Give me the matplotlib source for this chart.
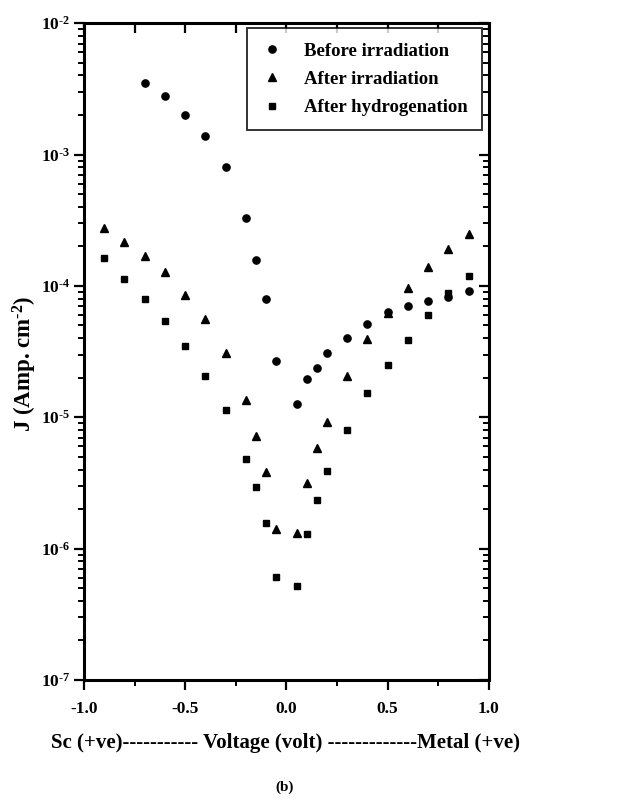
import numpy as np
import matplotlib
matplotlib.use("Agg")
import matplotlib.pyplot as plt
from matplotlib.ticker import LogLocator, NullFormatter, MultipleLocator

plt.rcParams['font.family'] = 'Liberation Serif'
plt.rcParams['font.weight'] = 'bold'
plt.rcParams['mathtext.fontset'] = 'custom'
plt.rcParams['mathtext.rm'] = 'Liberation Serif:bold'
plt.rcParams['mathtext.bf'] = 'Liberation Serif:bold'
plt.rcParams['mathtext.default'] = 'bf'

# Before irradiation
v_before = [-0.7, -0.6, -0.5, -0.4, -0.3, -0.2, -0.15, -0.1, -0.05,
            0.05, 0.1, 0.15, 0.2, 0.3, 0.4, 0.5, 0.6, 0.7, 0.8, 0.9]
j_before = [3.5e-3, 2.8e-3, 2.0e-3, 1.38e-3, 8.0e-4, 3.3e-4, 1.57e-4, 7.9e-5, 2.7e-5,
            1.26e-5, 1.95e-5, 2.37e-5, 3.1e-5, 4.0e-5, 5.1e-5, 6.3e-5, 7.0e-5, 7.7e-5, 8.3e-5, 9.1e-5]

# After irradiation
v_irr = [-0.9, -0.8, -0.7, -0.6, -0.5, -0.4, -0.3, -0.2, -0.15, -0.1, -0.05,
         0.05, 0.1, 0.15, 0.2, 0.3, 0.4, 0.5, 0.6, 0.7, 0.8, 0.9]
j_irr = [2.75e-4, 2.15e-4, 1.69e-4, 1.27e-4, 8.5e-5, 5.6e-5, 3.1e-5, 1.35e-5, 7.2e-6, 3.8e-6, 1.41e-6,
         1.32e-6, 3.16e-6, 5.8e-6, 9.2e-6, 2.06e-5, 3.94e-5, 6.2e-5, 9.6e-5, 1.39e-4, 1.9e-4, 2.48e-4]

# After hydrogenation
v_hyd = [-0.9, -0.8, -0.7, -0.6, -0.5, -0.4, -0.3, -0.2, -0.15, -0.1, -0.05,
         0.05, 0.1, 0.15, 0.2, 0.3, 0.4, 0.5, 0.6, 0.7, 0.8, 0.9]
j_hyd = [1.63e-4, 1.13e-4, 7.9e-5, 5.4e-5, 3.48e-5, 2.06e-5, 1.13e-5, 4.8e-6, 2.94e-6, 1.57e-6, 6.1e-7,
         5.2e-7, 1.29e-6, 2.34e-6, 3.9e-6, 8.0e-6, 1.53e-5, 2.5e-5, 3.9e-5, 6.0e-5, 8.9e-5, 1.19e-4]

xt = [-1.0, -0.5, 0.0, 0.5, 1.0]
yt = [1e-7, 1e-6, 1e-5, 1e-4, 1e-3, 1e-2]

fig = plt.figure(figsize=(6.19, 7.99), dpi=100)
ax = fig.add_axes([0.1357, 0.149, 0.654, 0.822])

h1, = ax.plot(v_before, j_before, 'o', color='black', markersize=5.2, label='Before irradiation')
h2, = ax.plot(v_irr, j_irr, '^', color='black', markersize=5.5, label='After irradiation')
h3, = ax.plot(v_hyd, j_hyd, 's', color='black', markersize=4.6, label='After hydrogenation')

ax.set_yscale('log')
ax.set_xlim(-1.0, 1.0)
ax.set_ylim(1e-7, 1e-2)
ax.xaxis.set_minor_locator(MultipleLocator(0.25))
ax.set_xticks(xt)
ax.set_xticklabels(['%.1f' % v for v in xt], fontsize=12.5, fontweight='bold')
ax.yaxis.set_minor_locator(LogLocator(base=10, subs=np.arange(2, 10), numticks=20))
ax.yaxis.set_minor_formatter(NullFormatter())
ax.set_yticks(yt)
ax.set_yticklabels([r'$10^{\text{-}%d}$' % -int(round(np.log10(v))) for v in yt], fontsize=12.5)
ax.tick_params(which='major', direction='out', length=7, width=1.6, pad=3)
ax.tick_params(which='minor', direction='out', length=4, width=1.4)
ax.tick_params(axis='x', pad=8)
for s in ax.spines.values():
    s.set_linewidth(2.2)

# inward ticks on right and top
axr = ax.twinx()
axr.set_yscale('log')
axr.set_ylim(1e-7, 1e-2)
axr.set_yticks(yt)
axr.yaxis.set_minor_locator(LogLocator(base=10, subs=np.arange(2, 10), numticks=20))
axr.tick_params(which='major', direction='in', length=7, width=1.6, labelright=False)
axr.tick_params(which='minor', direction='in', length=4, width=1.4, labelright=False)
axt = ax.twiny()
axt.set_xlim(-1.0, 1.0)
axt.xaxis.set_major_locator(MultipleLocator(0.5))
axt.xaxis.set_minor_locator(MultipleLocator(0.25))
axt.tick_params(which='major', direction='in', length=7, width=1.6, labeltop=False)
axt.tick_params(which='minor', direction='in', length=7, width=1.6, labeltop=False)

leg = axt.legend(handles=[h1, h2, h3], loc='upper right', bbox_to_anchor=(0.983, 0.992),
                 bbox_transform=ax.transAxes, frameon=True, fancybox=False,
                 prop={'family': 'Liberation Serif', 'weight': 'bold', 'size': 13.5},
                 borderpad=0.75, labelspacing=0.6, handlelength=1.2, handletextpad=1.1,
                 borderaxespad=0)
leg.get_frame().set_edgecolor('black')
leg.get_frame().set_linewidth(1.4)
leg.set_zorder(10)

fig.text(0.04, 0.544, r'J (Amp. cm$^{\text{-}2}$)', rotation=90, ha='center', va='center',
         fontsize=16.5, fontweight='bold')
fig.text(0.462, 0.07, 'Sc (+ve)----------- Voltage (volt) -------------Metal (+ve)',
         ha='center', va='center', fontsize=15, fontweight='bold')
fig.text(0.46, 0.015, '(b)', ha='center', va='center', fontsize=11, fontweight='bold')

fig.savefig('out.png', dpi=100)
